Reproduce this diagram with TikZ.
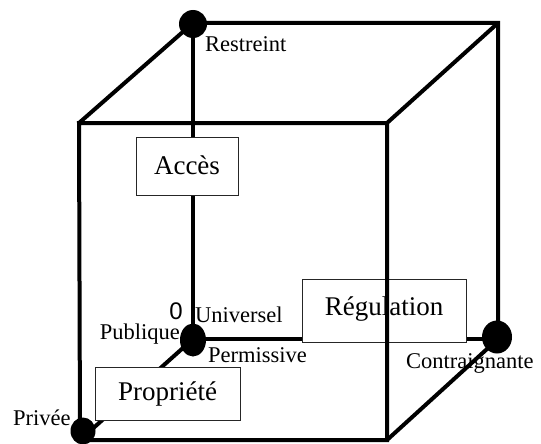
\documentclass[tikz,border=0pt]{standalone}
\usepackage{fontspec}
\setmainfont{Liberation Serif}
\newfontfamily\zerofont{Liberation Sans}
\usetikzlibrary{shapes.geometric}
\begin{document}
\begin{tikzpicture}[x=1pt,y=-1pt,
  edge/.style={line width=4pt, line join=miter},
  dot/.style={ellipse, fill=black, inner sep=0pt},
  axisbox/.style={draw=black!85, line width=0.9pt, fill=white, inner sep=0pt,
    font=\fontsize{27}{32}\selectfont, text height=17.8pt},
  lbl/.style={inner sep=0pt, anchor=base west, font=\fontsize{22.5}{26}\selectfont}]
\useasboundingbox (0,0) rectangle (541,444);
% cube corners
\coordinate (FTL) at (79,123);
\coordinate (FTR) at (387,123);
\coordinate (FBR) at (387,440);
\coordinate (FBL) at (80,440);
\coordinate (BTL) at (193,23);
\coordinate (BTR) at (498,23);
\coordinate (BBR) at (498,339);
\coordinate (BBL) at (193,339);
% hidden axes from the origin
\draw[edge] (BBL) -- (BTL);
\draw[edge] (BBL) -- (BBR);
\draw[edge] (BBL) -- (FBL);
% axis boxes
\node[axisbox, minimum width=102pt, minimum height=58pt, text depth=0pt] (acces) at (187,166) {Accès};
\node[axisbox, minimum width=164pt, minimum height=63pt, text depth=8.8pt] (regul) at (384,310.5) {Régulation};
\node[axisbox, minimum width=145pt, minimum height=53pt, text depth=4.8pt] (propr) at (167.5,393.5) {Propriété};
% labels
\node[lbl] (restreint) at (205,52) {Restreint};
\node[lbl] (universel) at (195,322) {Universel};
\node[lbl, anchor=base east] (publique) at (180,339.5) {Publique};
\node[lbl] (permissive) at (208,362) {Permissive};
\node[lbl] (contraignante) at (406,368) {Contraignante};
\node[lbl] (privee) at (13,425) {Privée};
\node[inner sep=0pt, anchor=base, font=\zerofont\fontsize{24}{28}\selectfont] (zero) at (176,319.5) {0};
% visible cube edges
\draw[edge] (FBL) -- (FTL) -- (FTR) -- (FBR) -- cycle;
\draw[edge] (FTL) -- (BTL) -- (BTR) -- (BBR) -- (FBR);
\draw[edge] (FTR) -- (BTR);
% dots
\node[dot, minimum width=28pt, minimum height=28pt] (dRestreint) at (193,24) {};
\node[dot, minimum width=26pt, minimum height=33pt] (dOrigin) at (193,340) {};
\node[dot, minimum width=30pt, minimum height=33pt] (dContr) at (497,337) {};
\node[dot, minimum width=25pt, minimum height=27pt] (dPrivee) at (83,431) {};
\end{tikzpicture}
\end{document}
